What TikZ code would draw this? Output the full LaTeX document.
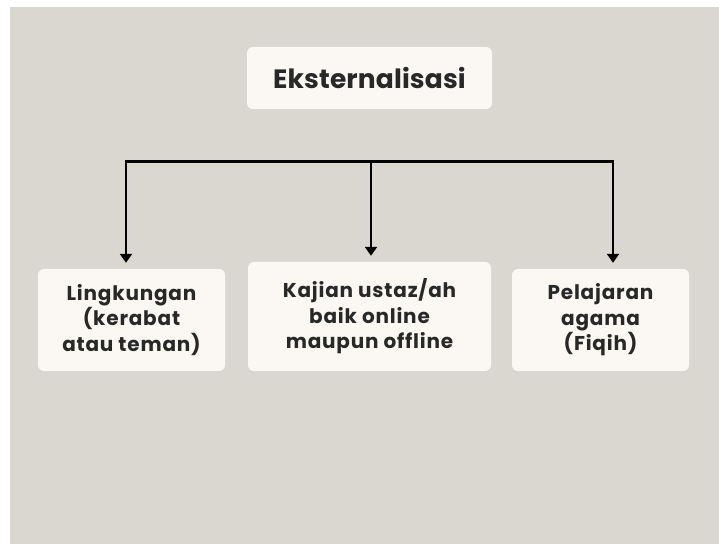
\documentclass[tikz,border=0pt]{standalone}
\usepackage{fontspec}
\setmainfont{Poppins}
\usetikzlibrary{arrows.meta}
\definecolor{paper}{HTML}{DAD7D1}
\definecolor{card}{HTML}{FBF8F3}
\definecolor{ink}{HTML}{282828}
\tikzset{
  card/.style={fill=card, rounded corners=6pt, align=center, text=ink,
    font=\bfseries\fontsize{20}{25.5}\selectfont\addfontfeature{LetterSpace=4},
    inner sep=0pt},
  title/.style={card, font=\bfseries\fontsize{26.5}{32}\selectfont\addfontfeature{LetterSpace=0.5}},
  link/.style={line width=2.6pt, black},
  feed/.style={link, -{Triangle[width=12pt,length=9pt]}, shorten >=6pt}
}
\begin{document}
\begin{tikzpicture}[x=1pt,y=1pt]
  \useasboundingbox (0,0) rectangle (719,543);
  \fill[white] (0,0) rectangle (719,543);
  \fill[paper] (10,-3) rectangle (722,536);

  \node[title, minimum width=245pt, minimum height=62pt] (top) at (369.5,465) {Eksternalisasi};

  \node[card, minimum width=187pt, minimum height=102pt] (left) at (131.5,223)
    {Lingkungan\\(kerabat\\atau teman)};
  \node[card, minimum width=243pt, minimum height=109pt] (mid) at (369.5,226.5)
    {Kajian ustaz/ah\\baik online\\maupun offline};
  \node[card, minimum width=177pt, minimum height=102pt] (right) at (600.5,223)
    {Pelajaran\\agama\\(Fiqih)};

  % distribution bar and its three drops
  \coordinate (bl) at (126,381.5);
  \coordinate (bm) at (371,381.5);
  \coordinate (br) at (613,381.5);
  \draw[link, line cap=rect] (bl) -- (br);
  \draw[feed] (bl) -- (bl |- left.north);
  \draw[feed] (bm) -- (bm |- mid.north);
  \draw[feed] (br) -- (br |- right.north);
\end{tikzpicture}
\end{document}
